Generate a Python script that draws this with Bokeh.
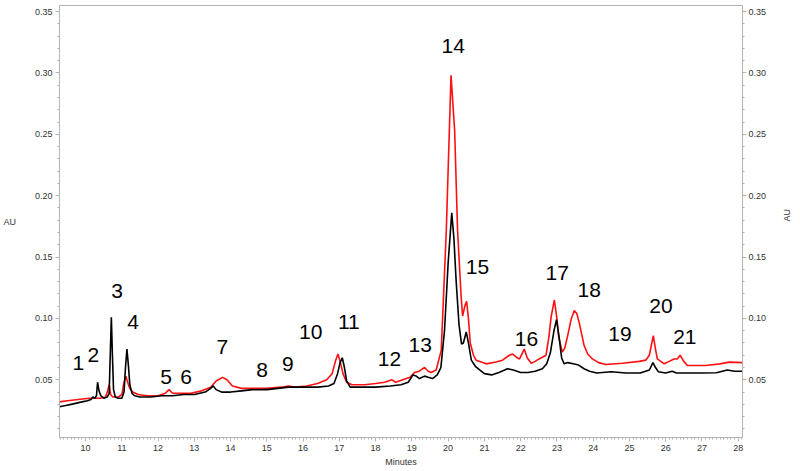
import math
from bokeh.plotting import figure
from bokeh.models import (ColumnDataSource, LinearAxis, Range1d, SingleIntervalTicker,
                          NumeralTickFormatter)
from bokeh.core.properties import value
from bokeh.embed import file_html
from bokeh.resources import INLINE

# ---- data ----
black_t = [9.28, 9.45, 9.6, 9.75, 9.9, 10.05, 10.15, 10.2, 10.25, 10.3, 10.33, 10.37, 10.42, 10.5,
           10.6, 10.65, 10.68, 10.71, 10.74, 10.77, 10.82, 10.9, 11.0, 11.06, 11.1, 11.14, 11.18,
           11.22, 11.28, 11.35, 11.5, 11.8, 12.1, 12.4, 12.7, 13.0, 13.3, 13.45, 13.52, 13.6,
           13.75, 14.0, 14.3, 14.6, 15.0, 15.3, 15.6, 16.0, 16.4, 16.7, 16.85, 16.95, 17.02, 17.08,
           17.14, 17.2, 17.3, 17.6, 18.0, 18.4, 18.7, 18.9, 19.03, 19.12, 19.21, 19.35, 19.45,
           19.57, 19.7, 19.8, 19.9, 20.0, 20.1, 20.16, 20.22, 20.3, 20.37, 20.42, 20.5, 20.56,
           20.64, 20.75, 20.87, 21.0, 21.2, 21.4, 21.64, 21.8, 22.0, 22.2, 22.4, 22.6, 22.72, 22.82,
           22.92, 22.99, 23.06, 23.13, 23.2, 23.3, 23.45, 23.6, 23.75, 23.9, 24.1, 24.5, 24.9,
           25.3, 25.55, 25.65, 25.72, 25.8, 26.0, 26.18, 26.3, 26.6, 27.0, 27.4, 27.7, 27.9, 28.12]
black_v = [0.028, 0.029, 0.030, 0.031, 0.032, 0.033, 0.034, 0.036, 0.035, 0.037, 0.048, 0.041, 0.037,
           0.035, 0.036, 0.039, 0.070, 0.101, 0.070, 0.042, 0.036, 0.035, 0.035, 0.040, 0.060, 0.075,
           0.062, 0.046, 0.039, 0.037, 0.036, 0.036, 0.037, 0.037, 0.038, 0.038, 0.040, 0.043, 0.045,
           0.042, 0.040, 0.040, 0.041, 0.042, 0.042, 0.043, 0.044, 0.044, 0.044, 0.045, 0.047, 0.055,
           0.064, 0.068, 0.060, 0.049, 0.044, 0.044, 0.044, 0.045, 0.046, 0.048, 0.054, 0.053, 0.051,
           0.053, 0.052, 0.051, 0.054, 0.060, 0.090, 0.145, 0.186, 0.165, 0.131, 0.095, 0.079, 0.080,
           0.089, 0.080, 0.066, 0.061, 0.058, 0.055, 0.054, 0.056, 0.059, 0.058, 0.056, 0.056, 0.057,
           0.059, 0.063, 0.072, 0.090, 0.099, 0.085, 0.068, 0.063, 0.064, 0.063, 0.062, 0.059, 0.057,
           0.0555, 0.0565, 0.0555, 0.0555, 0.058, 0.064, 0.060, 0.0565, 0.0555, 0.057, 0.0555, 0.0555,
           0.0555, 0.0558, 0.058, 0.057, 0.057]

red_t = [9.28, 9.5, 9.8, 10.1, 10.4, 10.55, 10.6, 10.65, 10.69, 10.75, 10.9, 11.0, 11.06, 11.11,
         11.16, 11.22, 11.3, 11.45, 11.7, 12.0, 12.2, 12.3, 12.4, 12.6, 12.9, 13.2, 13.45, 13.6,
         13.78, 13.9, 14.05, 14.3, 14.7, 15.0, 15.4, 15.6, 15.8, 16.1, 16.4, 16.65, 16.8, 16.9,
         16.96, 17.03, 17.1, 17.2, 17.35, 17.7, 18.0, 18.25, 18.45, 18.55, 18.75, 18.95, 19.07,
         19.2, 19.35, 19.45, 19.53, 19.67, 19.81, 19.95, 20.08, 20.18, 20.26, 20.36, 20.4, 20.46,
         20.51, 20.56, 20.61, 20.7, 20.77, 21.05, 21.32, 21.5, 21.69, 21.78, 21.9, 21.97, 22.05,
         22.1, 22.18, 22.29, 22.4, 22.51, 22.7, 22.78, 22.84, 22.93, 23.0, 23.05, 23.15, 23.22,
         23.29, 23.4, 23.48, 23.55, 23.62, 23.75, 23.85, 23.98, 24.15, 24.35, 24.81, 25.27, 25.45,
         25.55, 25.66, 25.72, 25.77, 25.96, 26.1, 26.23, 26.32, 26.4, 26.5, 26.6, 27.1, 27.5,
         27.75, 28.12]
red_v = [0.032, 0.033, 0.034, 0.035, 0.035, 0.036, 0.040, 0.046, 0.038, 0.036, 0.036, 0.038, 0.048,
         0.053, 0.048, 0.043, 0.040, 0.038, 0.037, 0.037, 0.039, 0.042, 0.039, 0.039, 0.039, 0.041,
         0.044, 0.049, 0.052, 0.050, 0.045, 0.043, 0.043, 0.043, 0.044, 0.045, 0.044, 0.045, 0.047,
         0.050, 0.055, 0.066, 0.071, 0.064, 0.055, 0.048, 0.046, 0.046, 0.047, 0.048, 0.050, 0.048,
         0.050, 0.052, 0.056, 0.057, 0.060, 0.057, 0.056, 0.058, 0.074, 0.172, 0.298, 0.253, 0.172,
         0.117, 0.102, 0.110, 0.114, 0.100, 0.080, 0.070, 0.066, 0.063, 0.0645, 0.066, 0.070, 0.071,
         0.068, 0.067, 0.072, 0.075, 0.068, 0.0635, 0.065, 0.067, 0.070, 0.085, 0.101, 0.115, 0.100,
         0.085, 0.0725, 0.076, 0.085, 0.100, 0.1065, 0.104, 0.096, 0.078, 0.071, 0.067, 0.064,
         0.0625, 0.0635, 0.065, 0.066, 0.070, 0.086, 0.075, 0.067, 0.063, 0.065, 0.067, 0.067, 0.070,
         0.065, 0.0617, 0.0617, 0.063, 0.0644, 0.064]

peak_labels = ["1", "2", "3", "4", "5", "6", "7", "8", "9", "10", "11", "12", "13", "14", "15",
               "16", "17", "18", "19", "20", "21"]
label_t = [9.80, 10.21, 10.87, 11.31, 12.22, 12.77, 13.77, 14.87, 15.58, 16.21, 17.26, 18.38,
           19.23, 20.14, 20.81, 22.16, 23.01, 23.89, 24.74, 25.87, 26.53]
label_v = [0.064, 0.0706, 0.122, 0.0967, 0.052, 0.052, 0.077, 0.0576, 0.0625, 0.089, 0.0967, 0.067,
           0.078, 0.322, 0.142, 0.0836, 0.137, 0.123, 0.087, 0.110, 0.085]

FONT = "Liberation Sans"
AX = "#b4b4b4"
TXT = "#333333"

p = figure(width=800, height=471, output_backend="svg", toolbar_location=None,
           x_range=Range1d(9.28, 28.12), y_range=Range1d(0.003, 0.3549),
           min_border_left=59, min_border_right=57, min_border_top=5, min_border_bottom=34,
           x_axis_label="Minutes", y_axis_label="AU")
p.grid.visible = False
p.outline_line_color = AX
p.outline_line_width = 1
p.background_fill_color = "white"
p.border_fill_color = "white"

p.line(red_t, red_v, line_color="#ff1010", line_width=1.6)
p.line(black_t, black_v, line_color="black", line_width=1.6)

src = ColumnDataSource(dict(x=label_t, y=label_v, t=peak_labels))
p.text(x="x", y="y", text="t", source=src, text_font=value(FONT), text_font_size="21px",
       text_align="center", text_baseline="middle", text_color="black")

right = LinearAxis(axis_label="AU")
p.add_layout(right, "right")

p.xaxis[0].ticker = SingleIntervalTicker(interval=1, num_minor_ticks=10)
for ax in [p.yaxis[0], right]:
    ax.ticker = SingleIntervalTicker(interval=0.05, num_minor_ticks=5)
    ax.formatter = NumeralTickFormatter(format="0.00")

for ax in [p.xaxis[0], p.yaxis[0], right]:
    ax.axis_line_color = AX
    ax.major_tick_line_color = AX
    ax.minor_tick_line_color = AX
    ax.major_tick_out = 4
    ax.major_tick_in = 0
    ax.minor_tick_out = 2
    ax.minor_tick_in = 0
    ax.major_label_text_font = FONT
    ax.major_label_text_font_size = "9px"
    ax.major_label_text_color = TXT
    ax.axis_label_text_font = FONT
    ax.axis_label_text_font_size = "9px"
    ax.axis_label_text_font_style = "normal"
    ax.axis_label_text_color = TXT

p.xaxis[0].major_label_standoff = 3
p.xaxis[0].axis_label_standoff = 3
p.yaxis[0].major_label_standoff = 3
p.yaxis[0].axis_label_standoff = 16
p.yaxis[0].axis_label_orientation = "horizontal"
right.major_label_standoff = 2
right.axis_label_standoff = 18
right.axis_label_orientation = math.pi / 2

open("out.html", "w").write(file_html(p, INLINE))
